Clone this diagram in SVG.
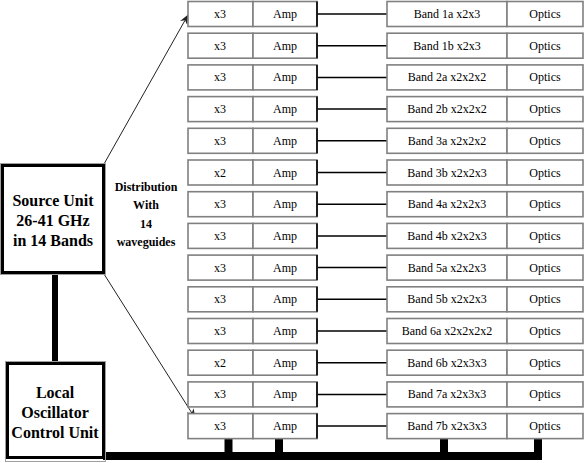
<svg xmlns="http://www.w3.org/2000/svg" width="584" height="463" viewBox="0 0 584 463">
<style>
.bx{fill:#fff;stroke:#808080;stroke-width:1.6}
.t{font-size:12px;fill:#000;text-anchor:middle;dominant-baseline:central}
.tb{font-weight:bold;fill:#000;text-anchor:middle}
.big{fill:#fff;stroke:#000;stroke-width:3}
.shadow{fill:none;stroke:#a0a0a0;stroke-width:1}
.link{stroke:#000;stroke-width:1.5}
.thick{stroke:#000;fill:none}
.arr{stroke:#222;stroke-width:1;fill:none;marker-end:url(#ah)}
</style>
<defs>
<marker id="ah" markerWidth="10" markerHeight="8" refX="9" refY="4" orient="auto" markerUnits="userSpaceOnUse">
<path d="M0,0 L10,4 L0,8 L3,4 Z" fill="#222"/>
</marker>
<g id="row">
<rect class="bx" x="188" y="-12.5" width="65" height="25"/>
<rect class="bx" x="253" y="-12.5" width="64" height="25"/>
<line x1="317" y1="-12.5" x2="317" y2="12.5" stroke="#000" stroke-width="1.6"/>
<rect class="bx" x="387" y="-12.5" width="120" height="25"/>
<rect class="bx" x="507" y="-12.5" width="76" height="25"/>
</g>
</defs>
<rect width="584" height="463" fill="#fff"/>
<g id="connectors">
<line class="thick" x1="55" y1="273" x2="55" y2="363" stroke-width="6"/>
<line class="thick" x1="103" y1="456" x2="542" y2="456" stroke-width="8"/>
<line class="thick" x1="228.5" y1="438" x2="228.5" y2="456" stroke-width="8"/>
<line class="thick" x1="279" y1="438" x2="279" y2="456" stroke-width="8"/>
<line class="thick" x1="444" y1="438" x2="444" y2="456" stroke-width="8"/>
<line class="thick" x1="538" y1="438" x2="538" y2="456" stroke-width="8"/>
<line class="arr" x1="104" y1="164" x2="188" y2="15"/>
<line class="arr" x1="104" y1="274" x2="195" y2="418"/>
<line class="link" x1="317" y1="14" x2="387" y2="14"/>
<line class="link" x1="317" y1="45.7" x2="387" y2="45.7"/>
<line class="link" x1="317" y1="77.4" x2="387" y2="77.4"/>
<line class="link" x1="317" y1="109.1" x2="387" y2="109.1"/>
<line class="link" x1="317" y1="140.8" x2="387" y2="140.8"/>
<line class="link" x1="317" y1="172.5" x2="387" y2="172.5"/>
<line class="link" x1="317" y1="204.2" x2="387" y2="204.2"/>
<line class="link" x1="317" y1="235.9" x2="387" y2="235.9"/>
<line class="link" x1="317" y1="267.6" x2="387" y2="267.6"/>
<line class="link" x1="317" y1="299.3" x2="387" y2="299.3"/>
<line class="link" x1="317" y1="331" x2="387" y2="331"/>
<line class="link" x1="317" y1="362.7" x2="387" y2="362.7"/>
<line class="link" x1="317" y1="394.4" x2="387" y2="394.4"/>
<line class="link" x1="317" y1="426.1" x2="387" y2="426.1"/>
</g>
<g font-family="Liberation Serif, serif">
<g id="source-unit">
<rect class="shadow" x="0.5" y="163.5" width="105" height="111"/>
<rect class="big" x="2.5" y="165.5" width="101" height="107"/>
<text class="tb" font-size="16" x="53" y="206">Source Unit</text>
<text class="tb" font-size="16" x="53" y="226">26-41 GHz</text>
<text class="tb" font-size="16" x="53" y="246">in 14 Bands</text>
</g>
<g id="lo-control">
<rect class="shadow" x="5.5" y="361.5" width="100" height="100"/>
<rect class="big" x="7.5" y="363.5" width="96" height="94"/>
<text class="tb" font-size="16" x="55" y="398">Local</text>
<text class="tb" font-size="16" x="55" y="418">Oscillator</text>
<text class="tb" font-size="16" x="55" y="438">Control Unit</text>
</g>
<g id="distribution-label">
<text class="tb" font-size="12" x="146" y="191">Distribution</text>
<text class="tb" font-size="12" x="146" y="209">With</text>
<text class="tb" font-size="12" x="146" y="228">14</text>
<text class="tb" font-size="12" x="146" y="246">waveguides</text>
</g>
<g id="row1" transform="translate(0,14)"><use href="#row"/><text class="t" x="220" y="0">x3</text><text class="t" x="285" y="0">Amp</text><text class="t" x="447" y="0">Band 1a x2x3</text><text class="t" x="545" y="0">Optics</text></g>
<g id="row2" transform="translate(0,45.7)"><use href="#row"/><text class="t" x="220" y="0">x3</text><text class="t" x="285" y="0">Amp</text><text class="t" x="447" y="0">Band 1b x2x3</text><text class="t" x="545" y="0">Optics</text></g>
<g id="row3" transform="translate(0,77.4)"><use href="#row"/><text class="t" x="220" y="0">x3</text><text class="t" x="285" y="0">Amp</text><text class="t" x="447" y="0">Band 2a x2x2x2</text><text class="t" x="545" y="0">Optics</text></g>
<g id="row4" transform="translate(0,109.1)"><use href="#row"/><text class="t" x="220" y="0">x3</text><text class="t" x="285" y="0">Amp</text><text class="t" x="447" y="0">Band 2b x2x2x2</text><text class="t" x="545" y="0">Optics</text></g>
<g id="row5" transform="translate(0,140.8)"><use href="#row"/><text class="t" x="220" y="0">x3</text><text class="t" x="285" y="0">Amp</text><text class="t" x="447" y="0">Band 3a x2x2x2</text><text class="t" x="545" y="0">Optics</text></g>
<g id="row6" transform="translate(0,172.5)"><use href="#row"/><text class="t" x="220" y="0">x2</text><text class="t" x="285" y="0">Amp</text><text class="t" x="447" y="0">Band 3b x2x2x3</text><text class="t" x="545" y="0">Optics</text></g>
<g id="row7" transform="translate(0,204.2)"><use href="#row"/><text class="t" x="220" y="0">x3</text><text class="t" x="285" y="0">Amp</text><text class="t" x="447" y="0">Band 4a x2x2x3</text><text class="t" x="545" y="0">Optics</text></g>
<g id="row8" transform="translate(0,235.9)"><use href="#row"/><text class="t" x="220" y="0">x3</text><text class="t" x="285" y="0">Amp</text><text class="t" x="447" y="0">Band 4b x2x2x3</text><text class="t" x="545" y="0">Optics</text></g>
<g id="row9" transform="translate(0,267.6)"><use href="#row"/><text class="t" x="220" y="0">x3</text><text class="t" x="285" y="0">Amp</text><text class="t" x="447" y="0">Band 5a x2x2x3</text><text class="t" x="545" y="0">Optics</text></g>
<g id="row10" transform="translate(0,299.3)"><use href="#row"/><text class="t" x="220" y="0">x3</text><text class="t" x="285" y="0">Amp</text><text class="t" x="447" y="0">Band 5b x2x2x3</text><text class="t" x="545" y="0">Optics</text></g>
<g id="row11" transform="translate(0,331)"><use href="#row"/><text class="t" x="220" y="0">x3</text><text class="t" x="285" y="0">Amp</text><text class="t" x="447" y="0">Band 6a x2x2x2x2</text><text class="t" x="545" y="0">Optics</text></g>
<g id="row12" transform="translate(0,362.7)"><use href="#row"/><text class="t" x="220" y="0">x2</text><text class="t" x="285" y="0">Amp</text><text class="t" x="447" y="0">Band 6b x2x3x3</text><text class="t" x="545" y="0">Optics</text></g>
<g id="row13" transform="translate(0,394.4)"><use href="#row"/><text class="t" x="220" y="0">x3</text><text class="t" x="285" y="0">Amp</text><text class="t" x="447" y="0">Band 7a x2x3x3</text><text class="t" x="545" y="0">Optics</text></g>
<g id="row14" transform="translate(0,426.1)"><use href="#row"/><text class="t" x="220" y="0">x3</text><text class="t" x="285" y="0">Amp</text><text class="t" x="447" y="0">Band 7b x2x3x3</text><text class="t" x="545" y="0">Optics</text></g>
</g>
</svg>
